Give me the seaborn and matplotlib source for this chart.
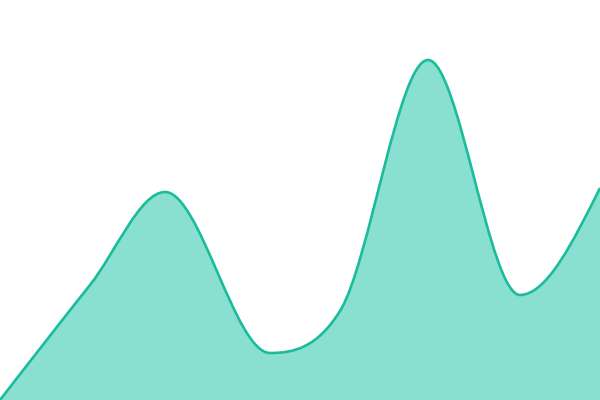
import numpy as np
import matplotlib
matplotlib.use("Agg")
import matplotlib.pyplot as plt
from matplotlib.path import Path
from matplotlib.patches import PathPatch
import seaborn as sns

# points the curve passes through
x_vals = [0, 90, 165, 270, 340, 428, 520, 600]
y_vals = [0, 115, 208, 47, 89, 340, 105, 212]

line_color = "#1abc9c"
fill_color = "#8ae0d0"


def monotone_tangents(x, y):
    # weighted slopes, flat at peaks and troughs, capped so no overshoot
    x = np.asarray(x, float)
    y = np.asarray(y, float)
    h = np.diff(x)
    s = np.diff(y) / h
    t = np.zeros(len(x))
    for i in range(1, len(x) - 1):
        if s[i - 1] * s[i] > 0:
            p = (s[i - 1] * h[i] + s[i] * h[i - 1]) / (h[i - 1] + h[i])
            t[i] = np.sign(s[i]) * min(3 * abs(s[i - 1]), 3 * abs(s[i]), abs(p))
    t[0] = (3 * s[0] - t[1]) / 2
    t[-1] = (3 * s[-1] - t[-2]) / 2
    return t


def curve_path(x, y):
    t = monotone_tangents(x, y)
    verts = [(x[0], y[0])]
    codes = [Path.MOVETO]
    for i in range(len(x) - 1):
        dx = (x[i + 1] - x[i]) / 3
        verts += [(x[i] + dx, y[i] + dx * t[i]),
                  (x[i + 1] - dx, y[i + 1] - dx * t[i + 1]),
                  (x[i + 1], y[i + 1])]
        codes += [Path.CURVE4] * 3
    return verts, codes


sns.set_style("white")
fig = plt.figure(figsize=(6, 4), dpi=100)
ax = fig.add_axes([0, 0, 1, 1])

verts, codes = curve_path(x_vals, y_vals)
area_verts = verts + [(x_vals[-1], 0), (x_vals[0], 0), verts[0]]
area_codes = codes + [Path.LINETO, Path.LINETO, Path.CLOSEPOLY]
ax.add_patch(PathPatch(Path(area_verts, area_codes), facecolor=fill_color, edgecolor="none"))
ax.add_patch(PathPatch(Path(verts, codes), facecolor="none", edgecolor=line_color, lw=1.9))

ax.set_xlim(0, 600)
ax.set_ylim(0, 400)
ax.axis("off")
fig.savefig("out.png", dpi=100)
